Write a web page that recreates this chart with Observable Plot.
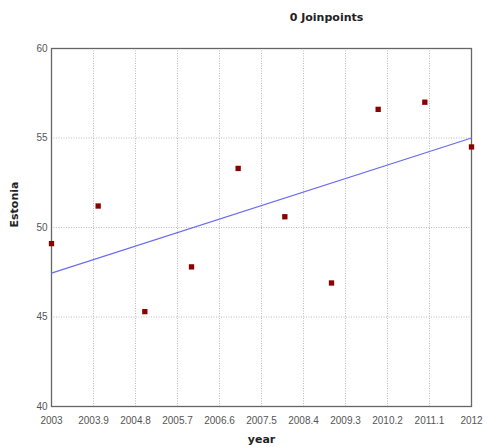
<!DOCTYPE html>
<html>
<head>
<meta charset="utf-8">
<script src="https://cdn.jsdelivr.net/npm/d3@7"></script>
<script src="https://cdn.jsdelivr.net/npm/@observablehq/plot@0.6"></script>
<style>
  html, body { margin: 0; padding: 0; background: #fff; }
  #chart svg { display: block; }
</style>
</head>
<body>
<div id="chart"></div>
<script>
const years = [2003, 2004, 2005, 2006, 2007, 2008, 2009, 2010, 2011, 2012];
const estonia = [49.1, 51.2, 45.3, 47.8, 53.3, 50.6, 46.9, 56.6, 57.0, 54.5];
const fitYears = [2003, 2012];
const fitValues = [47.45, 55.0];
const xTicks = [2003, 2003.9, 2004.8, 2005.7, 2006.6, 2007.5, 2008.4, 2009.3, 2010.2, 2011.1, 2012];
const yTicks = [40, 45, 50, 55, 60];
const title = "0 Joinpoints";
const xLabel = "year";
const yLabel = "Estonia";

const points = years.map((y, i) => ({year: y, value: estonia[i]}));
const fit = fitYears.map((y, i) => ({year: y, value: fitValues[i]}));

const chart = Plot.plot({
  width: 487,
  height: 447,
  marginLeft: 51,
  marginRight: 16,
  marginTop: 48,
  marginBottom: 41,
  style: {fontFamily: "'Liberation Sans', Arial, sans-serif", fontSize: "10px", background: "#fff"},
  x: {domain: [2003, 2012], ticks: xTicks, label: null},
  y: {domain: [40, 60], ticks: yTicks, label: null},
  marks: [
    Plot.gridX(xTicks, {stroke: "#bbb", strokeOpacity: 1, strokeDasharray: "1,1.5", strokeWidth: 1}),
    Plot.gridY(yTicks, {stroke: "#bbb", strokeOpacity: 1, strokeDasharray: "1,1.5", strokeWidth: 1}),
    Plot.frame({stroke: "#666", strokeWidth: 1.3}),
    Plot.axisX(xTicks, {tickSize: 0, tickPadding: 10, fill: "#555", tickFormat: d => String(d), label: null}),
    Plot.axisY(yTicks, {tickSize: 0, tickPadding: 4, fill: "#555", label: null}),
    Plot.line(fit, {x: "year", y: "value", stroke: "#6b6bf0", strokeWidth: 1.2}),
    Plot.dot(points, {x: "year", y: "value", symbol: "square", r: 3, fill: "#8b0000", stroke: null}),
    Plot.text([title], {frameAnchor: "top", dx: 65, dy: -35, fontWeight: "bold", fontSize: 11, fill: "#222", fontFamily: "'DejaVu Sans', Verdana, sans-serif"}),
    Plot.text([xLabel], {frameAnchor: "bottom", dy: 36, fontWeight: "bold", fontSize: 11, fill: "#222", fontFamily: "'DejaVu Sans', Verdana, sans-serif"}),
    Plot.text([yLabel], {frameAnchor: "left", dx: -37, rotate: -90, fontWeight: "bold", fontSize: 11, fill: "#222", fontFamily: "'DejaVu Sans', Verdana, sans-serif"})
  ]
});
document.getElementById("chart").appendChild(chart);
</script>
</body>
</html>
